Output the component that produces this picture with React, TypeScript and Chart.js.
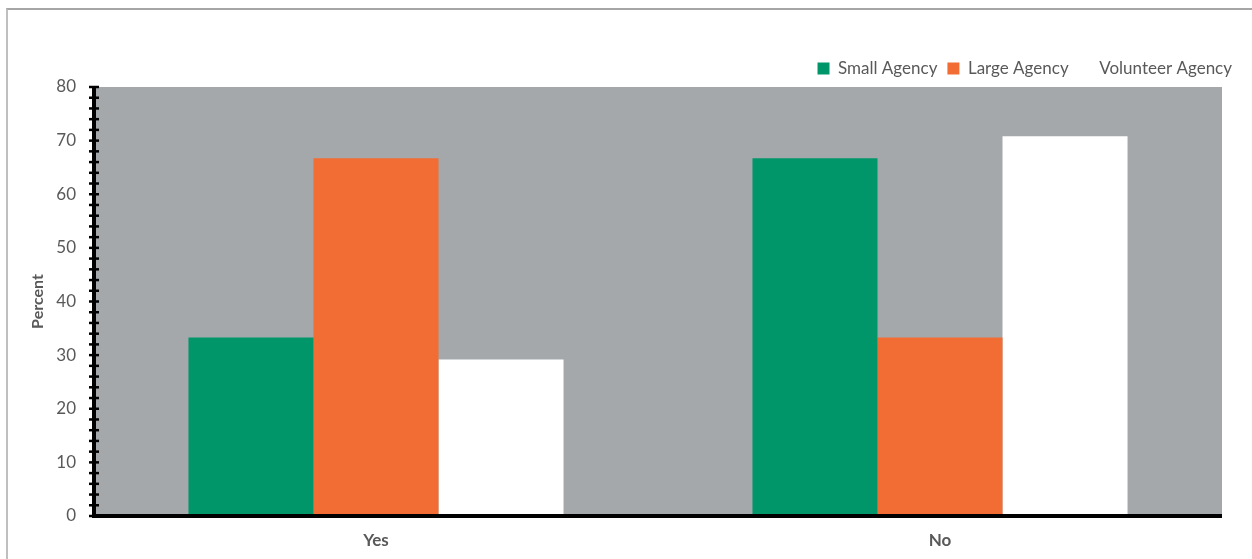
import React, { useEffect, useRef } from "react";
import { Chart, registerables } from "chart.js";

Chart.register(...registerables);

const categories = ["Yes", "No"];
const smallAgency = [33.3, 66.7];
const largeAgency = [66.7, 33.3];
const volunteerAgency = [29.2, 70.8];
const seriesNames = ["Small Agency", "Large Agency", "Volunteer Agency"];
const yMin = 0;
const yMax = 80;
const yStep = 10;
const minorStep = 2;

const FONT = "Lato, 'Open Sans', sans-serif";
const TEXT = "#595959";

const plotPlugin = {
  id: "plotDecor",
  beforeDatasetsDraw(chart: any) {
    const { ctx, chartArea } = chart;
    ctx.save();
    ctx.fillStyle = "#A5A8AB";
    ctx.fillRect(chartArea.left, chartArea.top, chartArea.right - chartArea.left, chartArea.bottom - chartArea.top);
    ctx.restore();
  },
  afterDatasetsDraw(chart: any) {
    const { ctx, chartArea } = chart;
    const y = chart.scales.y;
    ctx.save();
    ctx.strokeStyle = "#000000";
    ctx.lineWidth = 2.5;
    for (let v = yMin; v <= yMax; v += minorStep) {
      const py = y.getPixelForValue(v);
      ctx.beginPath();
      ctx.moveTo(chartArea.left - 5, py);
      ctx.lineTo(chartArea.left + 5, py);
      ctx.stroke();
    }
    ctx.lineWidth = 4;
    ctx.beginPath();
    ctx.moveTo(chartArea.left, chartArea.top - 1);
    ctx.lineTo(chartArea.left, chartArea.bottom + 2);
    ctx.stroke();
    ctx.beginPath();
    ctx.moveTo(chartArea.left - 2, chartArea.bottom);
    ctx.lineTo(chartArea.right, chartArea.bottom);
    ctx.stroke();
    ctx.restore();
  },
};

export default function App() {
  const ref = useRef<HTMLCanvasElement>(null);
  useEffect(() => {
    if (!ref.current) return;
    const chart = new Chart(ref.current, {
      type: "bar",
      data: {
        labels: categories,
        datasets: [
          { label: seriesNames[0], data: smallAgency, backgroundColor: "#00966A", borderWidth: 0 },
          { label: seriesNames[1], data: largeAgency, backgroundColor: "#F26D34", borderWidth: 0 },
          { label: seriesNames[2], data: volunteerAgency, backgroundColor: "#FFFFFF", borderWidth: 0 },
        ],
      },
      options: {
        animation: false,
        responsive: false,
        devicePixelRatio: 1,
        datasets: { bar: { categoryPercentage: 0.665, barPercentage: 1 } },
        layout: { padding: { top: 50, right: 10, left: 0, bottom: 0 } },
        plugins: {
          tooltip: { enabled: false },
          legend: {
            position: "top",
            align: "end",
            labels: {
              boxWidth: 12,
              boxHeight: 12,
              padding: 10,
              color: TEXT,
              font: { family: FONT, size: 17 },
            },
          },
        },
        scales: {
          x: {
            grid: { display: false, drawTicks: false },
            border: { display: false },
            ticks: { color: TEXT, font: { family: FONT, size: 17, weight: "bold" }, padding: 14 },
            afterFit: (s: any) => { s.height = 43; },
          },
          y: {
            min: yMin,
            max: yMax,
            grid: { display: false, drawTicks: false },
            border: { display: false },
            ticks: { stepSize: yStep, color: TEXT, font: { family: FONT, size: 17 }, padding: 18 },
            title: {
              display: true,
              text: "Percent",
              color: TEXT,
              font: { family: FONT, size: 16, weight: "bold" },
              padding: { top: 28, bottom: 0 },
            },
            afterFit: (s: any) => { s.width = 94; },
          },
          yRight: {
            position: "right",
            display: true,
            grid: { display: false, drawTicks: false },
            border: { display: false },
            ticks: { display: false },
            afterFit: (s: any) => { s.width = 20; },
          },
        },
      },
      plugins: [plotPlugin],
    });
    return () => chart.destroy();
  }, []);

  return (
    <div style={{ position: "absolute", left: 0, top: 0, width: 1252, height: 559, overflow: "hidden", background: "#fff" }}>
      <div
        style={{
          position: "absolute",
          left: 6,
          top: 8,
          width: 1400,
          height: 700,
          borderTop: "2px solid #A6A6A6",
          borderLeft: "2px solid #BFBFBF",
        }}
      />
      <canvas ref={ref} width={1252} height={559} style={{ position: "absolute", left: 0, top: 0 }} />
    </div>
  );
}
